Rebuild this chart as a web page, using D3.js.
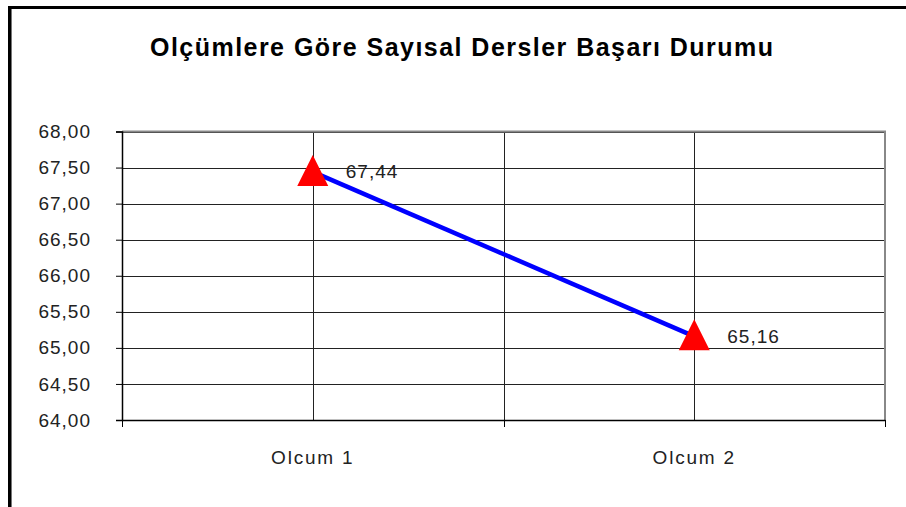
<!DOCTYPE html>
<html lang="tr">
<head>
    <meta charset="UTF-8">
    <title>Chart</title>
    <script src="https://d3js.org/d3.v7.min.js"></script>
    <style>
        body { margin: 0; background: #fff; }
        text { font-family: "Liberation Sans", Arial, sans-serif; }
    </style>
</head>
<body>
<svg width="906" height="507"></svg>
<script type="text/javascript">
    const categories = ["Olcum 1", "Olcum 2"];
    const values = [67.44, 65.16];
    const yTicks = [64, 64.5, 65, 65.5, 66, 66.5, 67, 67.5, 68];
    const title = "Olçümlere Göre Sayısal Dersler Başarı Durumu";

    const svg = d3.select("svg");
    const fmt = d => d.toFixed(2).replace(".", ",");

    // outer frame (only left and top edges visible)
    svg.append("rect").attr("x", 9.5).attr("y", 7.5).attr("width", 1000).attr("height", 1000)
        .attr("fill", "none").attr("stroke", "#000").attr("stroke-width", 3);
    svg.append("line").attr("x1", 11.5).attr("x2", 11.5).attr("y1", 9).attr("y2", 507)
        .attr("stroke", "#777").attr("stroke-width", 1);

    const pLeft = 122, pRight = 885, pTop = 131.5, pBottom = 420;

    const x = d3.scaleBand().domain(categories).range([pLeft, pRight]);
    const y = d3.scaleLinear().domain([64, 68]).range([pBottom, pTop]);

    svg.append("text")
        .attr("x", 150).attr("y", 56)
        .attr("font-size", 25).attr("font-weight", "bold")
        .attr("textLength", 623).attr("lengthAdjust", "spacing")
        .text(title);

    // horizontal gridlines
    svg.append("g").selectAll("line")
        .data(yTicks.slice(1))
        .join("line")
        .attr("x1", pLeft).attr("x2", pRight)
        .attr("y1", d => Math.round(y(d)) + 0.5).attr("y2", d => Math.round(y(d)) + 0.5)
        .attr("stroke", "#222").attr("stroke-width", 1);

    // vertical gridlines: category centres and boundary
    const vx = categories.map(c => x(c) + x.bandwidth() / 2).concat([x(categories[1])]);
    svg.append("g").selectAll("line")
        .data(vx)
        .join("line")
        .attr("x1", d => Math.round(d) + 0.5).attr("x2", d => Math.round(d) + 0.5)
        .attr("y1", pTop).attr("y2", pBottom)
        .attr("stroke", "#222").attr("stroke-width", 1);

    // plot border right/top (gray)
    svg.append("path")
        .attr("d", `M${pLeft},${pTop}H${pRight}V${pBottom}`)
        .attr("fill", "none").attr("stroke", "#888").attr("stroke-width", 2);

    const labelFont = sel => sel
        .attr("font-size", 19).attr("fill", "#222")
        .attr("font-family", "Liberation Sans, Arial, sans-serif")
        .attr("letter-spacing", 1);

    // y axis
    const yAxis = svg.append("g")
        .attr("transform", `translate(${pLeft},0)`)
        .call(d3.axisLeft(y).tickValues(yTicks).tickFormat(fmt).tickSize(6).tickPadding(25));
    yAxis.select(".domain").attr("stroke", "#000").attr("stroke-width", 1.5);
    yAxis.selectAll(".tick line").attr("stroke", "#000");
    yAxis.selectAll("text").call(labelFont);

    // x axis
    const xAxis = svg.append("g")
        .attr("transform", `translate(0,${pBottom})`)
        .call(d3.axisBottom(x).tickSize(0).tickPadding(31));
    xAxis.select(".domain").attr("stroke", "#000").attr("stroke-width", 1.5);
    xAxis.selectAll("text").call(labelFont).attr("letter-spacing", 1.8);
    const bounds = [pLeft, x(categories[1]), pRight];
    svg.append("g").selectAll("line")
        .data(bounds)
        .join("line")
        .attr("x1", d => Math.round(d) + 0.5).attr("x2", d => Math.round(d) + 0.5)
        .attr("y1", pBottom).attr("y2", pBottom + 7)
        .attr("stroke", "#000").attr("stroke-width", 1);

    // series line
    const pts = categories.map((c, i) => [x(c) + x.bandwidth() / 2, y(values[i])]);
    svg.append("path")
        .attr("d", d3.line()(pts))
        .attr("fill", "none").attr("stroke", "#0000ff").attr("stroke-width", 4.5);

    // markers
    svg.append("g").selectAll("path")
        .data(pts)
        .join("path")
        .attr("transform", d => `translate(${d[0]},${d[1]})`)
        .attr("d", "M0,-17L15.5,14L-15.5,14Z")
        .attr("fill", "#ff0000");

    // data labels
    svg.append("g").selectAll("text")
        .data(pts)
        .join("text")
        .attr("x", d => d[0] + 33)
        .attr("y", d => d[1] + 6.5)
        .call(labelFont)
        .text((d, i) => fmt(values[i]));
</script>
</body>
</html>
